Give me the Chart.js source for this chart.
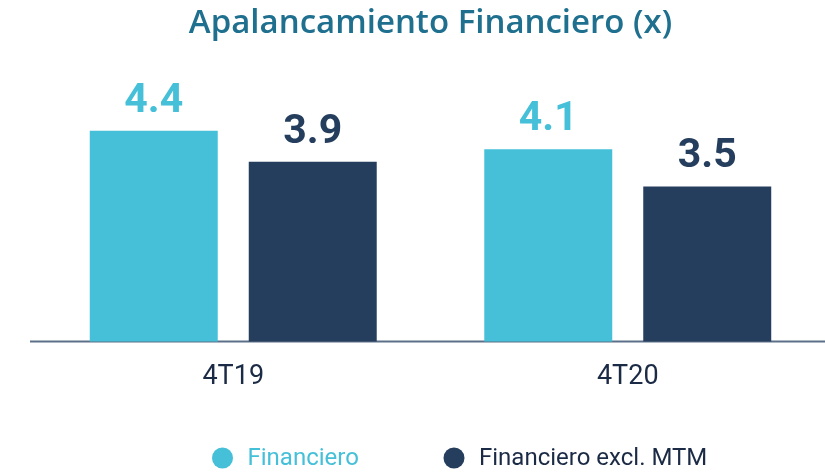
<!DOCTYPE html>
<html>
<head>
<meta charset="utf-8">
<script src="https://cdn.jsdelivr.net/npm/chart.js@4.4.0/dist/chart.umd.min.js"></script>
<style>
	html, body { margin: 0; padding: 0; background: #fff; }
	#wrap { width: 825px; height: 475px; }
</style>
</head>
<body>
<div id="wrap"><canvas id="apalancamiento"></canvas></div>
<script>
const periods = ['4T19', '4T20'];
const financiero = [4.4, 4.1];
const financieroExclMtm = [3.9, 3.5];
const seriesNames = ['Financiero', 'Financiero excl. MTM'];
const seriesColors = ['#45c0d8', '#263e5d'];

// value labels above each bar + the axis line
const barLabels = {
	id: 'barLabels',
	beforeDatasetsDraw(chart) {
		const ctx = chart.ctx;
		const area = chart.chartArea;
		ctx.save();
		ctx.strokeStyle = '#5d7089';
		ctx.lineWidth = 2;
		ctx.beginPath();
		ctx.moveTo(area.left - 6, area.bottom);
		ctx.lineTo(chart.width, area.bottom);
		ctx.stroke();
		ctx.restore();
	},
	afterDatasetsDraw(chart) {
		const ctx = chart.ctx;
		ctx.save();
		ctx.font = 'bold 41px Roboto';
		ctx.textAlign = 'center';
		ctx.textBaseline = 'alphabetic';
		chart.data.datasets.forEach((ds, i) => {
			chart.getDatasetMeta(i).data.forEach((bar, j) => {
				ctx.fillStyle = seriesColors[i];
				ctx.fillText(ds.data[j].toFixed(1), bar.x, bar.y - 19);
			});
		});
		ctx.restore();
	}
};

// legend with circle markers, text coloured like the series
const dotLegend = {
	id: 'dotLegend',
	afterDraw(chart) {
		const ctx = chart.ctx;
		const mid = chart.width / 2;
		const y = 458;
		const dotX = [mid - 190, mid + 41.5];
		ctx.save();
		ctx.font = '24px Roboto';
		ctx.textBaseline = 'middle';
		ctx.textAlign = 'left';
		seriesNames.forEach((name, i) => {
			ctx.fillStyle = seriesColors[i];
			ctx.beginPath();
			ctx.arc(dotX[i], y, 10.5, 0, Math.PI * 2);
			ctx.fill();
			ctx.fillStyle = i === 0 ? seriesColors[0] : '#1b2a45';
			ctx.fillText(name, dotX[i] + 25, y + 1);
		});
		ctx.restore();
	}
};

const ctx = document.getElementById('apalancamiento');
new Chart(ctx, {
	type: 'bar',
	data: {
		labels: periods,
		datasets: [{
			label: seriesNames[0],
			data: financiero,
			backgroundColor: seriesColors[0],
			barPercentage: 0.805,
			categoryPercentage: 0.806
		}, {
			label: seriesNames[1],
			data: financieroExclMtm,
			backgroundColor: seriesColors[1],
			barPercentage: 0.805,
			categoryPercentage: 0.806
		}]
	},
	options: {
		responsive: true,
		maintainAspectRatio: false,
		animation: false,
		layout: { padding: { left: 36, right: 0, top: 0, bottom: 63 } },
		plugins: {
			legend: { display: false },
			tooltip: { enabled: false },
			title: {
				display: true,
				text: 'Apalancamiento Financiero (x)',
				color: '#1f6f8e',
				font: { family: 'Open Sans', size: 33, weight: '600' },
				padding: { top: 4, bottom: 37.4 }
			}
		},
		scales: {
			x: {
				grid: { display: false, drawTicks: false },
				border: { display: false },
				ticks: {
					color: '#1b2a45',
					font: { family: 'Roboto', size: 27 },
					padding: 19
				}
			},
			y: {
				display: false,
				min: 1,
				max: 5.2
			}
		}
	},
	plugins: [barLabels, dotLegend]
});
</script>
</body>
</html>
